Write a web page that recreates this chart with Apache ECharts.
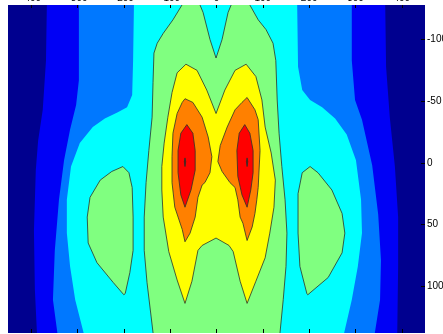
<!DOCTYPE html>
<html>
<head>
<meta charset="utf-8">
<script src="https://cdn.jsdelivr.net/npm/echarts@6/dist/echarts.min.js"></script>
<style>
  html, body { margin: 0; padding: 0; background: #fff; }
  #main { width: 443px; height: 334px; }
</style>
</head>
<body>
<div id="main"></div>
<script>
// tick values
const xTicks = [-400, -300, -200, -100, 0, 100, 200, 300, 400];
const yTicks = [-100, -50, 0, 50, 100];

// filled contour regions, vertices in data units [x, y]
// outer bands run past the axis range and are clipped
const navyField = [[-470, -140], [470, -140], [470, 150], [-470, 150]];
const blueBand = [
  [-366, -132], [-368, -83], [-375, -43], [-385, -18], [-390, 6], [-394, 55], [-392, 103], [-387, 142],
  [390, 142], [392, 84], [392, 44], [385, 3], [374, -37], [366, -78], [364, -132]
];
const azureBand = [
  [-297, -132], [-297, -67], [-303, -47], [-316, -27], [-329, -2], [-340, 30], [-349, 71], [-353, 111], [-342, 142],
  [340, 142], [353, 111], [355, 79], [349, 42], [336, 2], [314, -35], [299, -51], [292, -83], [292, -132]
];
const cyanBand = [
  [-178, -132], [-180, -83], [-182, -55], [-193, -45], [-213, -41], [-241, -36], [-267, -29], [-295, -16],
  [-314, 3], [-323, 30], [-323, 57], [-316, 84], [-305, 111], [-284, 142],
  [273, 142], [292, 111], [305, 84], [314, 57], [312, 30], [301, -2], [281, -23], [256, -36],
  [228, -45], [202, -51], [185, -59], [176, -78], [174, -132]
];
const greenCentre = [
  [-68, -132], [-40, -132], [-29, -122], [-14, -100], [-1, -85], [12, -100], [25, -122], [36, -132], [66, -132],
  [90, -116], [107, -108], [122, -97], [128, -83], [131, -51], [135, -24], [141, 3], [148, 30], [152, 57],
  [150, 84], [144, 111], [137, 138], [135, 144],
  [-135, 144], [-141, 125], [-150, 97], [-156, 71], [-156, 44], [-152, 16], [-146, -10], [-139, -37],
  [-137, -65], [-135, -89], [-128, -97], [-115, -105], [-94, -116]
];
const greenLeft = [
  [-202, 3], [-189, 8], [-182, 20], [-180, 44], [-180, 71], [-187, 89], [-197, 106], [-200, 107],
  [-223, 97], [-258, 81], [-277, 65], [-279, 44], [-273, 28], [-251, 14], [-226, 7]
];
const greenRight = [
  [202, 3], [219, 8], [249, 22], [271, 41], [277, 57], [271, 73], [241, 93], [197, 107],
  [195, 106], [180, 84], [176, 57], [176, 25], [185, 8]
];
const yellowCore = [
  [-66, -80], [-42, -75], [-21, -59], [-1, -40], [18, -59], [40, -75], [64, -80], [85, -70], [98, -51],
  [105, -29], [118, -8], [127, 14], [124, 36], [115, 57], [105, 77], [85, 96], [66, 114], [51, 96],
  [36, 72], [27, 67], [-1, 61], [-31, 67], [-40, 71], [-53, 96], [-68, 114], [-85, 95], [-103, 72],
  [-115, 44], [-118, 22], [-118, 3], [-113, -16], [-105, -37], [-96, -57], [-85, -73]
];
const orangeLeft = [
  [-68, -52], [-51, -49], [-31, -37], [-18, -21], [-10, -5], [-14, 8], [-25, 16], [-31, 18], [-40, 28],
  [-46, 44], [-57, 57], [-68, 64], [-74, 54], [-90, 36], [-96, 16], [-96, -5], [-94, -24], [-85, -40], [-74, -49]
];
const orangeRight = [
  [66, -53], [83, -43], [90, -35], [94, -10], [90, 20], [87, 30], [83, 41], [77, 52], [66, 63], [57, 49],
  [51, 44], [46, 30], [40, 20], [29, 16], [12, 7], [3, -1], [8, -14], [23, -29], [40, -43], [55, -49]
];
const redLeft = [
  [-64, -31], [-51, -24], [-46, -10], [-46, 6], [-55, 22], [-68, 36], [-77, 26], [-83, 8], [-83, -10], [-77, -24]
];
const redRight = [
  [61, -31], [72, -24], [79, -10], [79, 8], [74, 22], [66, 36], [55, 26], [46, 11], [44, -10], [49, -24]
];
const peakLeft = [[-68, -4], [-66.5, -1], [-68, 3], [-69.5, -1]];
const peakRight = [[66, -4], [67.5, -1], [66, 3], [64.5, -1]];

// jet levels, low to high
const levelColors = ['#00008f', '#0000f5', '#0078ff', '#00ffff', '#80ff80', '#ffff00', '#ff8000', '#ff0000', '#800000'];

const regions = [
  { level: 0, pts: navyField },
  { level: 1, pts: blueBand },
  { level: 2, pts: azureBand },
  { level: 3, pts: cyanBand },
  { level: 4, pts: greenCentre },
  { level: 4, pts: greenLeft },
  { level: 4, pts: greenRight },
  { level: 5, pts: yellowCore },
  { level: 6, pts: orangeLeft },
  { level: 6, pts: orangeRight },
  { level: 7, pts: redLeft },
  { level: 7, pts: redRight },
  { level: 8, pts: peakLeft },
  { level: 8, pts: peakRight }
];

const font = "'Liberation Sans', Arial, sans-serif";
const chart = echarts.init(document.getElementById('main'), null, { renderer: 'canvas' });

chart.setOption({
  animation: false,
  grid: { left: 8, right: 18, top: 5, bottom: 1, outerBoundsMode: 'none', containLabel: false },
  xAxis: [
    {
      type: 'value', position: 'top', min: -450, max: 450, z: 10,
      splitLine: { show: false },
      axisLine: { show: false, onZero: false },
      axisTick: { show: true, inside: true, length: 3, customValues: xTicks, lineStyle: { color: '#000', width: 1 } },
      axisLabel: { customValues: xTicks, margin: 2, fontSize: 10, color: '#000', fontFamily: font }
    },
    {
      type: 'value', position: 'bottom', min: -450, max: 450, z: 10,
      splitLine: { show: false },
      axisLine: { show: false, onZero: false },
      axisTick: { show: true, inside: true, length: 4, customValues: xTicks, lineStyle: { color: '#000', width: 1 } },
      axisLabel: { show: false }
    }
  ],
  yAxis: {
    type: 'value', position: 'right', inverse: true, min: -128, max: 138, z: 10,
    splitLine: { show: false },
    axisLine: { show: false, onZero: false },
    axisTick: { show: true, inside: true, length: 4, customValues: yTicks, lineStyle: { color: '#000', width: 1 } },
    axisLabel: { customValues: yTicks, margin: 2, fontSize: 10, color: '#000', fontFamily: font }
  },
  series: [{
    type: 'custom',
    coordinateSystem: 'cartesian2d',
    clip: true,
    silent: true,
    data: regions.map((r, i) => [i]),
    renderItem(params, api) {
      const r = regions[params.dataIndex];
      const points = r.pts.map((p) => api.coord(p));
      return {
        type: 'polygon',
        shape: { points },
        style: {
          fill: levelColors[r.level],
          stroke: r.level >= 4 ? '#2b332b' : null,
          lineWidth: r.level >= 4 ? 0.8 : 0
        }
      };
    }
  }]
});
</script>
</body>
</html>
